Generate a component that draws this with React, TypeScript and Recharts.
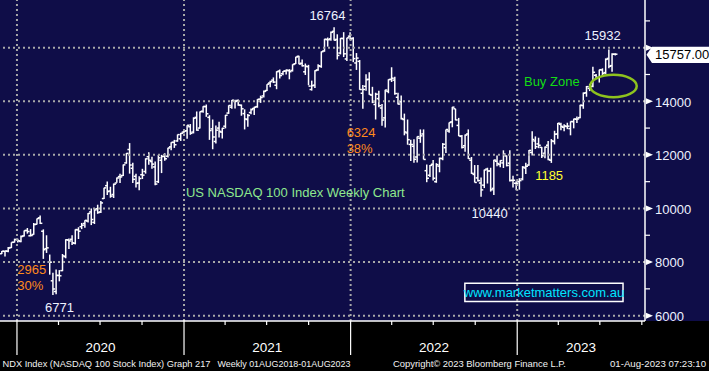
import React from 'react';
import { ComposedChart, Bar, XAxis, YAxis, ReferenceLine, ReferenceDot, ReferenceArea } from 'recharts';

// NDX weekly bars [open, high, low, close], one per week, first week ends 29 Nov 2019
const w2019 = [
  [8310, 8412, 8300, 8403], [8400, 8420, 8204, 8411], [8405, 8564, 8370, 8523], [8540, 8736, 8522, 8735],
  [8740, 8873, 8730, 8837],
];
const w2020 = [
  [8850, 8872, 8727, 8793], [8770, 8990, 8740, 8953], [8975, 9180, 8950, 9174], [9180, 9270, 9060, 9140],
  [8980, 9230, 8960, 8991], [9030, 9460, 9020, 9401], [9410, 9625, 9400, 9623], [9650, 9736, 9420, 9446],
  [9150, 9220, 8118, 8461], [8500, 9000, 8340, 8530], [8000, 8280, 7530, 7995], [7300, 7600, 6771, 6995],
  [6900, 7720, 6800, 7502], [7500, 7700, 7280, 7487], [7680, 8300, 7660, 8231], [8200, 8850, 8140, 8833],
  [8820, 8880, 8490, 8788], [8850, 9000, 8640, 8718], [8700, 9220, 8660, 9213], [9200, 9300, 8860, 9152],
  [9320, 9460, 9230, 9376], [9440, 9560, 9280, 9556], [9530, 9830, 9480, 9813], [9870, 10000, 9380, 9588],
  [9480, 10020, 9420, 9946], [9990, 10140, 9800, 9849], [9870, 10280, 9830, 10207], [10370, 10770, 10350, 10768],
  [10850, 11010, 10500, 10630], [10650, 10810, 10400, 10461], [10520, 10930, 10390, 10905], [10950, 11160, 10960, 11139],
  [11190, 11300, 10950, 11177], [11230, 11640, 11210, 11627], [11700, 12070, 11670, 12056], [12200, 12440, 11300, 11621],
  [11500, 11710, 10950, 11087], [11200, 11300, 10780, 10936], [10950, 11200, 10680, 11117], [11260, 11480, 11100, 11243],
  [11380, 11870, 11300, 11853], [11930, 12100, 11630, 11799], [11750, 11930, 11480, 11655], [11550, 11750, 10870, 10910],
  [11000, 12000, 10950, 11890], [11800, 12000, 11320, 11937], [11950, 12060, 11780, 11855], [11950, 12270, 11900, 12258],
  [12300, 12470, 12170, 12464], [12470, 12560, 12260, 12378], [12520, 12760, 12490, 12756], [12600, 12820, 12520, 12804],
  [12850, 12920, 12800, 12888],
];
const w2021 = [
  [12900, 13110, 12600, 13105], [13050, 13150, 12750, 12804], [12850, 13400, 12800, 13366], [13400, 13620, 12900, 12925],
  [13000, 13620, 12980, 13612], [13630, 13810, 13570, 13808], [13800, 13880, 13420, 13534], [13400, 13480, 12560, 12909],
  [12970, 13320, 12210, 12668], [12500, 13100, 12420, 12923], [13000, 13240, 12650, 12878], [12850, 13010, 12610, 12992],
  [13070, 13490, 12990, 13481], [13560, 13850, 13530, 13845], [13780, 14050, 13720, 14041], [14000, 14060, 13730, 13995],
  [14030, 14070, 13830, 13861], [13850, 13880, 13460, 13720], [13540, 13700, 12950, 13339], [13320, 13530, 13050, 13470],
  [13580, 13730, 13520, 13687], [13730, 13800, 13490, 13774], [13800, 14080, 13760, 14069], [14080, 14210, 13940, 14141],
  [14200, 14400, 14140, 14368], [14400, 14640, 14380, 14639], [14680, 14770, 14520, 14733], [14790, 14890, 14680, 14717],
  [14600, 15120, 14450, 15104], [15130, 15190, 14850, 14959], [15030, 15130, 14970, 15123], [15130, 15190, 15000, 15163],
  [15140, 15200, 14820, 15104], [15150, 15380, 15110, 15374], [15400, 15660, 15390, 15653], [15680, 15700, 15380, 15391],
  [15420, 15560, 15300, 15325], [15100, 15410, 14980, 15309], [15290, 15360, 14600, 14566], [14440, 14770, 14400, 14583],
  [14600, 15160, 14500, 15146], [15170, 15380, 15140, 15326], [15300, 15860, 15250, 15850], [15880, 16330, 15850, 16318],
  [16300, 16380, 16040, 16298], [16330, 16600, 16260, 16573], [16610, 16765, 16270, 16280], [16310, 16500, 15560, 15711],
  [15800, 16360, 15750, 16350], [16340, 16580, 15650, 15772], [15580, 16370, 15500, 16367], [16430, 16580, 16300, 16320],
];
const w2022 = [
  [16350, 16390, 15460, 15593], [15430, 15800, 15170, 15612], [15490, 15540, 14430, 14439], [14300, 14610, 13720, 14440],
  [14560, 15010, 14390, 14806], [14820, 15080, 14240, 14253], [14230, 14540, 13930, 13974], [13880, 14320, 13320, 14264],
  [14100, 14390, 13780, 13838], [13750, 13900, 13090, 13302], [13380, 14430, 13020, 14420], [14370, 14820, 14300, 14809],
  [14820, 15270, 14720, 14861], [14790, 14920, 14240, 14289], [14150, 14320, 13880, 13897], [13980, 14220, 13320, 13355],
  [13320, 13540, 12730, 12855], [12820, 13320, 12380, 12567], [12390, 12560, 11770, 12387], [12320, 12580, 11710, 11835],
  [11920, 12690, 11720, 12681], [12620, 12950, 12450, 12710], [12780, 12950, 11830, 11830], [11410, 11640, 10980, 11128],
  [11240, 11620, 11170, 11608], [11650, 11810, 11040, 11128], [11000, 11690, 10960, 11635], [11580, 11900, 11350, 11870],
  [11860, 12440, 11800, 12396], [12270, 12950, 12070, 12947], [12890, 13210, 12830, 13207], [13230, 13790, 13030, 13781],
  [13720, 13720, 13290, 13303], [13100, 13380, 12700, 12706], [12690, 12740, 12240, 12281], [12340, 12760, 12120, 12740],
  [12780, 12950, 11850, 11862], [11800, 11920, 11290, 11311], [11270, 11620, 10970, 10971], [11140, 11620, 11010, 11040],
  [10950, 11160, 10440, 10693], [10870, 11450, 10760, 11436], [11470, 11520, 10930, 11397], [11400, 11520, 10630, 10697],
  [10750, 11820, 10500, 11804], [11760, 11980, 11580, 11677], [11640, 11800, 11540, 11787], [11700, 12170, 11510, 12030],
  [11960, 11980, 11570, 11605], [11690, 12170, 11010, 11044], [11050, 11220, 10780, 11052], [10940, 11020, 10680, 10940],
];
const w2023 = [
  [11000, 11130, 10700, 11040], [11100, 11580, 11050, 11541], [11510, 11710, 11290, 11574], [11620, 12180, 11590, 12167],
  [12090, 12880, 11980, 12574], [12520, 12690, 12220, 12304], [12410, 12640, 12250, 12359], [12280, 12290, 11880, 11967],
  [12060, 12310, 11870, 12290], [12360, 12520, 11800, 11830], [11800, 12590, 11700, 12520], [12500, 12900, 12390, 12768],
  [12780, 13190, 12600, 13181], [13140, 13200, 12920, 13063], [13030, 13140, 12880, 13080], [13060, 13200, 12960, 13072],
  [12980, 13250, 12730, 13245], [13240, 13350, 12990, 13340], [13330, 13430, 13190, 13341], [13390, 13870, 13370, 13854],
  [13840, 14330, 13720, 14299], [14320, 14570, 14170, 14547], [14480, 14650, 14380, 14546], [14560, 15290, 14520, 15083],
  [14970, 15020, 14840, 14892], [14880, 15180, 14700, 15179], [15170, 15230, 14930, 15039], [15070, 15600, 15020, 15565],
  [15600, 15932, 15230, 15306], [15330, 15790, 15100, 15754], [15760, 15790, 15710, 15757],
];

const weeks = [...w2019, ...w2020, ...w2021, ...w2022, ...w2023];
const data = weeks.map(([o, h, l, c], i) => ({ i, o, h, l, c, range: [l, h] }));
const lastClose = weeks[weeks.length - 1][3];

const yTicks = [6000, 7000, 8000, 9000, 10000, 11000, 12000, 13000, 14000, 15000, 16000, 17000];
const years = [2020, 2021, 2022, 2023];

const START = Date.UTC(2019, 10, 29);
const weekOf = (y: number, m: number) => (Date.UTC(y, m, 1) - START) / (7 * 86400000);
const X_MIN = -0.595;
const X_MAX = 201.28;

const yearStarts = years.map((y) => weekOf(y, 0));
const quarterTicks = years.flatMap((y) => [0, 3, 6, 9].map((m) => weekOf(y, m)));
const yearLabel = new Map<number, string>();
years.forEach((y) => {
  const mid = (weekOf(y, 0) + Math.min(weekOf(y + 1, 0), X_MAX)) / 2;
  yearLabel.set(mid, String(y));
});
const xTicks = [...quarterTicks, ...yearLabel.keys()];

const NAVY = '#0f0d48';
const GRID = '#a8a8a8';
const WHITE = '#eef2ff';
const ORANGE = '#ff8a1c';
const FONT = '"Liberation Sans", Arial, sans-serif';

const notes = [
  { t: '16764', i: 101.9, v: 17034, fill: WHITE, anchor: 'middle' },
  { t: '15932', i: 188.0, v: 16288, fill: WHITE, anchor: 'middle' },
  { t: '6324', i: 107.9, v: 12657, fill: ORANGE, anchor: 'start' },
  { t: '38%', i: 107.9, v: 12060, fill: ORANGE, anchor: 'start' },
  { t: 'Buy Zone', i: 163.4, v: 14571, fill: '#14dc14', anchor: 'start' },
  { t: '1185', i: 166.9, v: 11064, fill: '#ffff30', anchor: 'start' },
  { t: 'US NASDAQ 100 Index Weekly Chart', i: 57.6, v: 10430, fill: '#8ee88e', anchor: 'start' },
  { t: '10440', i: 147.0, v: 9635, fill: WHITE, anchor: 'start' },
  { t: '2965', i: 4.82, v: 7546, fill: ORANGE, anchor: 'start' },
  { t: '30%', i: 4.82, v: 6960, fill: ORANGE, anchor: 'start' },
  { t: '6771', i: 13.5, v: 6128, fill: WHITE, anchor: 'start' },
];

// footer lines: text, left edge, width
const footer = [
  { t: 'NDX Index (NASDAQ 100 Stock Index) Graph 217', x: 2.5, w: 208 },
  { t: 'Weekly 01AUG2018-01AUG2023', x: 217.5, w: 133 },
  { t: 'Copyright© 2023 Bloomberg Finance L.P.', x: 393, w: 173 },
  { t: '01-Aug-2023 07:23:10', x: 610, w: 96 },
];

function Ohlc(props: any) {
  const { x, y, width, height, payload } = props;
  const { o, h, l, c } = payload;
  const cx = x + width / 2;
  const k = height / (h - l);
  const py = (v: number) => y + (h - v) * k;
  return (
    <g stroke="#fff" strokeWidth={1.5}>
      <line x1={cx} x2={cx} y1={y} y2={y + height} />
      <line x1={cx - 2.2} x2={cx} y1={py(o)} y2={py(o)} />
      <line x1={cx} x2={cx + 2.2} y1={py(c)} y2={py(c)} />
    </g>
  );
}

function XTick(props: any) {
  const { x, y, payload } = props;
  const lab = yearLabel.get(payload.value);
  if (lab) {
    return (
      <text x={x} y={y + 31} textAnchor="middle" fill="#fff" fontSize={13.5} fontFamily={FONT}>
        {lab}
      </text>
    );
  }
  const major = yearStarts.includes(payload.value);
  return <line x1={x} x2={x} y1={y} y2={y + (major ? 34 : 4)} stroke="#fff" strokeWidth={1.2} />;
}

function YTick(props: any) {
  const { x, y, payload } = props;
  const v = payload.value;
  if (v % 2000 !== 0) return <line x1={x} x2={x + 5} y1={y} y2={y} stroke="#fff" strokeWidth={1.2} />;
  return (
    <g>
      <path d={`M${x + 1},${y - 3}L${x + 8},${y}L${x + 1},${y + 3}Z`} fill="#fff" />
      {v !== 16000 && (
        <text x={x + 10} y={y + 5.3} fill={WHITE} fontSize={13} fontFamily={FONT}>
          {v}
        </text>
      )}
    </g>
  );
}

function Callout(props: any) {
  const { cx, cy } = props;
  return (
    <g>
      <path
        d={`M${cx + 1.5},${cy + 0.5}L${cx + 7},${cy - 7.5}L${cx + 66},${cy - 7.5}L${cx + 66},${cy + 8.8}L${cx + 7},${cy + 8.8}Z`}
        fill="#fff"
      />
      <text x={cx + 10} y={cy + 5} fill="#000" fontSize={13} fontFamily={FONT}>
        {lastClose.toFixed(2)}
      </text>
    </g>
  );
}

export default function App() {
  return (
    <div
      style={{
        position: 'absolute',
        left: 0,
        top: 0,
        width: 709,
        height: 371,
        background: `linear-gradient(${NAVY} 0 321px, #000 321px)`,
        fontFamily: FONT,
      }}
    >
      <ComposedChart width={709} height={371} data={data} margin={{ top: 0, right: 0, bottom: 0, left: 0 }}>
        <XAxis
          dataKey="i"
          type="number"
          domain={[X_MIN, X_MAX]}
          allowDataOverflow
          ticks={xTicks}
          interval={0}
          height={50}
          tickSize={0}
          tickMargin={0}
          tickLine={false}
          axisLine={{ stroke: '#fff', strokeWidth: 1.5 }}
          tick={<XTick />}
        />
        <YAxis
          orientation="right"
          type="number"
          domain={[5800, 17780]}
          allowDataOverflow
          ticks={yTicks}
          interval={0}
          width={64}
          tickSize={0}
          tickMargin={0}
          tickLine={false}
          axisLine={{ stroke: '#fff', strokeWidth: 1.5 }}
          tick={<YTick />}
        />
        {yTicks.filter((v) => v % 2000 === 0).map((v) => (
          <ReferenceLine key={`h${v}`} y={v} stroke={GRID} strokeWidth={2} strokeDasharray="2 3" />
        ))}
        {yearStarts.map((v) => (
          <ReferenceLine key={`v${v}`} x={v} stroke={GRID} strokeWidth={2} strokeDasharray="2 3" />
        ))}
        <Bar dataKey="range" barSize={3} shape={<Ohlc />} isAnimationActive={false} />
        <ReferenceArea
          x1={144.9}
          x2={194.4}
          y1={6524}
          y2={7210}
          fill="none"
          stroke="#fff"
          strokeWidth={1.5}
          label={{ value: 'www.marketmatters.com.au', position: 'center', fill: '#00e4ff', fontSize: 13, fontFamily: FONT }}
        />
        <ReferenceDot
          x={191.4}
          y={14571}
          r={0}
          shape={(p: any) => <ellipse cx={p.cx} cy={p.cy} rx={23.3} ry={11.2} fill="none" stroke="#8ec21e" strokeWidth={2.5} />}
        />
        {notes.map((n) => (
          <ReferenceDot
            key={n.t}
            x={n.i}
            y={n.v}
            r={0}
            shape={(p: any) => (
              <text x={p.cx} y={p.cy} fill={n.fill} fontSize={13} textAnchor={n.anchor} fontFamily={FONT}>
                {n.t}
              </text>
            )}
          />
        ))}
        <ReferenceDot x={X_MAX} y={lastClose} r={0} ifOverflow="visible" shape={(p: any) => <Callout {...p} />} />
      </ComposedChart>
      <svg
        width={709}
        height={371}
        style={{ position: 'absolute', left: 0, top: 0, pointerEvents: 'none' }}
        fontFamily={FONT}
        fontSize={9.6}
        fill="#f2f2f2"
      >
        {footer.map((f) => (
          <text key={f.t} x={f.x} y={366.5} textLength={f.w} lengthAdjust="spacingAndGlyphs">
            {f.t}
          </text>
        ))}
      </svg>
    </div>
  );
}
